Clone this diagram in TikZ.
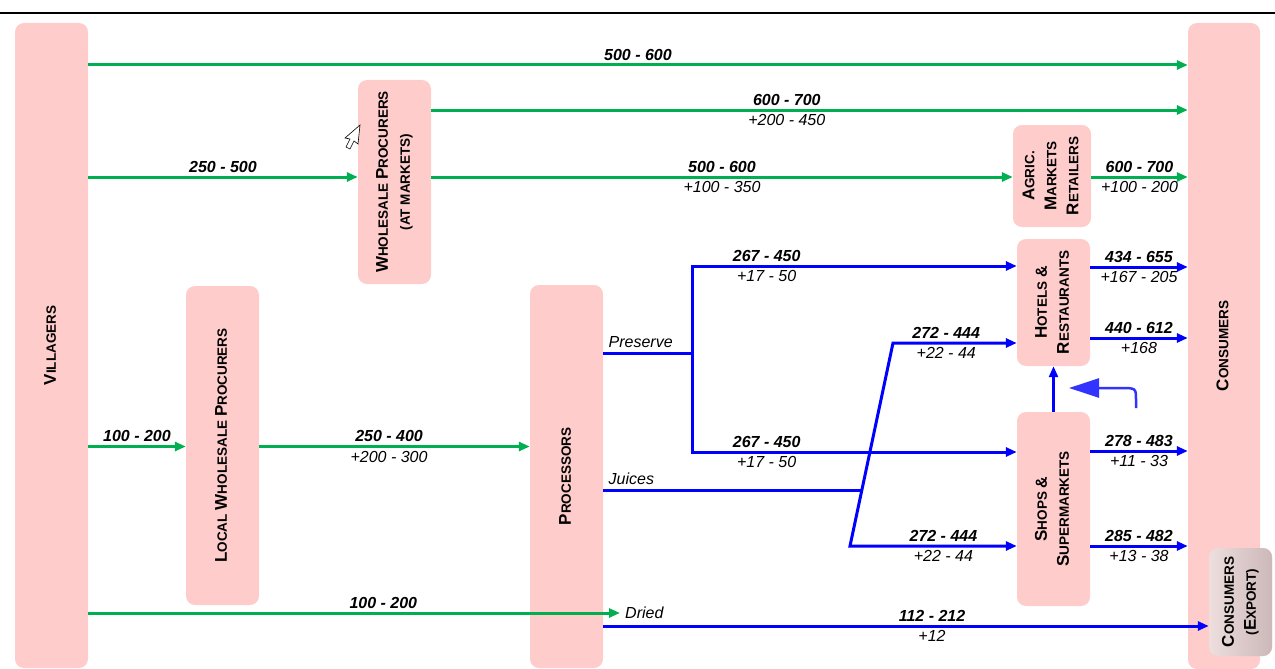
\documentclass[tikz,border=0pt]{standalone}
\usepackage{fontspec}
\setmainfont{Liberation Sans}
\usepackage{tikz}
\usepackage{xcolor}
\usetikzlibrary{arrows.meta}
\definecolor{boxpink}{RGB}{255,204,204}
\definecolor{flowgreen}{RGB}{0,176,80}
\definecolor{flowblue}{RGB}{0,0,255}
\definecolor{curveblue}{RGB}{51,51,255}
\newcommand{\capword}[2]{{\fontsize{17}{22}\selectfont #1}{\fontsize{13.5}{22}\selectfont #2}}
\newcommand{\bigamp}{{\fontsize{16}{22}\selectfont\&}}
\newcommand{\vlabel}[1]{\rotatebox{90}{\fontsize{13.5}{22}\selectfont\bfseries\begin{tabular}{@{}c@{}}#1\end{tabular}}}

\begin{document}
\begin{tikzpicture}[x=1pt,y=-1pt,
    stage/.style={fill=boxpink,rounded corners=9pt,inner sep=0pt},
    gflow/.style={draw=flowgreen,line width=3pt,-{Triangle[length=11pt,width=9pt]}},
    bflow/.style={draw=flowblue,line width=3pt,-{Triangle[length=11pt,width=9pt]}},
    bfork/.style={draw=flowblue,line width=3pt,{Triangle[length=11pt,width=9pt]}-{Triangle[length=11pt,width=9pt]}},
    bline/.style={draw=flowblue,line width=3pt},
    price/.style={font=\fontsize{16}{18}\selectfont\bfseries\itshape,inner sep=3pt},
    margin/.style={font=\fontsize{16}{18}\selectfont\itshape,inner sep=3pt}]%
  \useasboundingbox (0,0) rectangle (1275,669);%
  \draw [line width=2pt] (0,13) -- (1275,13);%
  \node [stage,minimum width=73pt,minimum height=645pt] (vil) at (51.5,345.5) {\vlabel{\capword{V}{ILLAGERS}}};%
  \node [stage,minimum width=73pt,minimum height=204pt] (wpm) at (394.5,182) {\vlabel{\capword{W}{HOLESALE} \capword{P}{ROCURERS}\\(AT MARKETS)}};%
  \node [stage,minimum width=73pt,minimum height=319pt] (lwp) at (222.5,445.5) {\vlabel{\capword{L}{OCAL} \capword{W}{HOLESALE} \capword{P}{ROCURERS}}};%
  \node [stage,minimum width=73pt,minimum height=383pt] (proc) at (566.5,476.5) {\vlabel{\capword{P}{ROCESSORS}}};%
  \node [stage,minimum width=78pt,minimum height=102pt] (agr) at (1052,176) {\vlabel{\capword{A}{GRIC.}\\\capword{M}{ARKETS}\\\capword{R}{ETAILERS}}};%
  \node [stage,minimum width=73pt,minimum height=127pt] (hot) at (1053.5,302.5) {\vlabel{\capword{H}{OTELS} \bigamp\\\capword{R}{ESTAURANTS}}};%
  \node [stage,minimum width=73pt,minimum height=194pt] (shp) at (1053.5,509) {\vlabel{\capword{S}{HOPS} \bigamp\\\capword{S}{UPERMARKETS}}};%
  \node [stage,minimum width=72pt,minimum height=646pt] (con) at (1224,346) {\vlabel{\capword{C}{ONSUMERS}}};%
  \node [stage,left color={rgb,255:red,238;green,222;blue,222},right color={rgb,255:red,204;green,184;blue,184},minimum width=63pt,minimum height=108pt] (exp) at (1240.5,602) {\vlabel{\capword{C}{ONSUMERS}\\(\capword{E}{XPORT})}};%
  \node [margin,anchor=west,inner sep=5pt] (dry) at (620,613) {Dried};%
  \draw [gflow] (vil.east |- 0,65) -- node [price,above] {500 - 600} (con.west |- 0,65);%
  \draw [gflow] (wpm.east |- 0,110) -- node [pos=0.47,price,above] {600 - 700} node [pos=0.47,margin,below] {+200 - 450} (con.west |- 0,110);%
  \draw [gflow] (vil.east |- 0,177) -- node [price,above] {250 - 500} (wpm.west |- 0,177);%
  \draw [gflow] (wpm.east |- 0,177) -- node [price,above] {500 - 600} node [margin,below] {+100 - 350} (agr.west |- 0,177);%
  \draw [gflow] (agr.east |- 0,177) -- node [price,above] {600 - 700} node [margin,below] {+100 - 200} (con.west |- 0,177);%
  \draw [gflow] (vil.east |- 0,446.5) -- node [price,above] {100 - 200} (lwp.west |- 0,446.5);%
  \draw [gflow] (lwp.east |- 0,446.5) -- node [pos=0.48,price,above] {250 - 400} node [pos=0.48,margin,below] {+200 - 300} (proc.west |- 0,446.5);%
  \draw [gflow] (vil.east |- dry) -- node [pos=0.555,price,above] {100 - 200} (dry.west);%
  \coordinate (pj) at (692,353);%
  \coordinate (pt) at (692,266);%
  \coordinate (pb) at (692,452);%
  \coordinate (jj) at (862,490);%
  \coordinate (st) at (893,343);%
  \coordinate (sb) at (850,546);%
  \draw [bline] (proc.east |- pj) -- node [pos=0,margin,anchor=south west,inner sep=4pt] {Preserve} (pj);%
  \draw [bfork] (hot.west |- pt) -- node [pos=0.77,price,above] {267 - 450} node [pos=0.77,margin,below] {+17 - 50} (pt) -- (pb) -- node [pos=0.23,price,above] {267 - 450} node [pos=0.23,margin,below] {+17 - 50} (shp.west |- pb);%
  \draw [bline] (proc.east |- jj) -- node [pos=0,margin,anchor=south west,inner sep=4pt] {Juices} (jj);%
  \draw [bfork] (hot.west |- st) -- node [pos=0.57,price,above] {272 - 444} node [pos=0.57,margin,below] {+22 - 44} (st) -- (sb) -- node [pos=0.56,price,above] {272 - 444} node [pos=0.56,margin,below] {+22 - 44} (shp.west |- sb);%
  \draw [bflow] (proc.east |- 0,626) -- node [pos=0.543,price,above] {112 - 212} node [pos=0.543,margin,below] {+12} (exp.west |- 0,626);%
  \draw [bflow] (hot.east |- 0,267) -- node [price,above] {434 - 655} node [margin,below] {+167 - 205} (con.west |- 0,267);%
  \draw [bflow] (hot.east |- 0,338) -- node [price,above] {440 - 612} node [margin,below] {+168} (con.west |- 0,338);%
  \draw [bflow] (shp.east |- 0,451) -- node [price,above] {278 - 483} node [margin,below] {+11 - 33} (con.west |- 0,451);%
  \draw [bflow] (shp.east |- 0,546) -- node [price,above] {285 - 482} node [margin,below] {+13 - 38} (con.west |- 0,546);%
  \draw [bflow,line width=2.5pt] (shp.north) -- (hot.south);%
  \coordinate (cvs) at (1136,408);%
  \coordinate (cve) at (1069,388);%
  \draw [curveblue,line width=2.5pt,-{Triangle[length=30pt,width=19pt]}] (cvs) -- (1136,400) .. controls (1136,388) .. (1120,388) -- (cve);%
  \draw [fill=white,line width=0.6pt] (360,125) -- (345,138) -- (350,139) -- (346,147) -- (350,149) -- (354,141) -- (358,144) -- cycle;%
\end{tikzpicture}
\end{document}
